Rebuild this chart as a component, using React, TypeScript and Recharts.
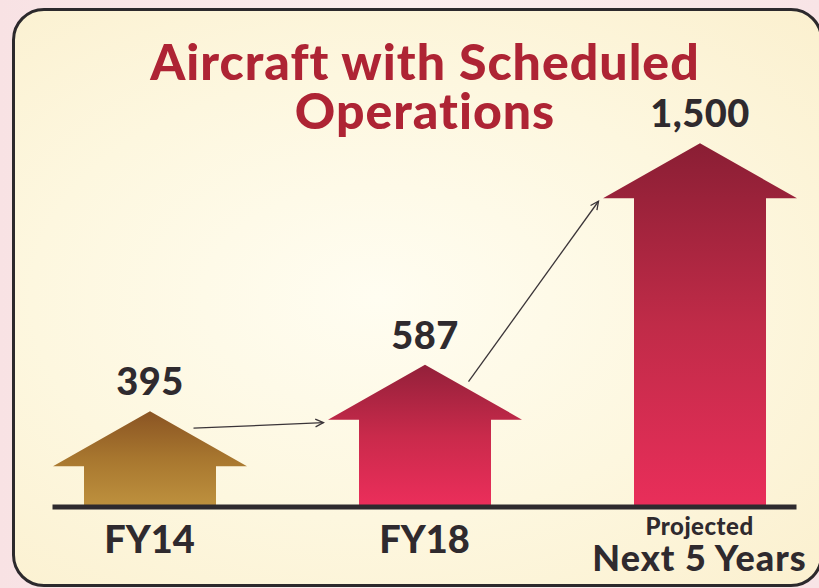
import React from "react";
import {
  BarChart,
  Bar,
  XAxis,
  YAxis,
  Cell,
  LabelList,
  ReferenceLine,
} from "recharts";

const PERIODS = ["FY14", "FY18", "Projected"];
const TICK_LINES = [["FY14"], ["FY18"], ["Projected", "Next 5 Years"]];
const AIRCRAFT = [395, 587, 1500];
const GRADIENTS = [
  ["#8a5423", "#a8772f", "#be913e"],
  ["#93203a", "#c92a4b", "#ec2e5b"],
  ["#8a1e34", "#c02b48", "#e92e5a"],
];

const BAR_W = 132;
const HEAD_OVER = 31;
const HEAD_H = 55;
const FONT = "Lato, 'Open Sans', sans-serif";
const INK = "#2f2a2e";

const data = PERIODS.map((period, i) => ({ period, aircraft: AIRCRAFT[i] }));

// bar drawn as an up-arrow
function ArrowBar(props: any) {
  const { x, y, width, height, fill } = props;
  if (!height) return null;
  const base = y + height;
  const hb = y + HEAD_H;
  const pts = [
    [x, base],
    [x, hb],
    [x - HEAD_OVER, hb],
    [x + width / 2, y],
    [x + width + HEAD_OVER, hb],
    [x + width, hb],
    [x + width, base],
  ]
    .map((p) => p.join(","))
    .join(" ");
  return <polygon points={pts} fill={fill} />;
}

function ValueLabel(props: any) {
  const { x, y, width, value } = props;
  return (
    <text
      x={x + width / 2}
      y={y - 16}
      textAnchor="middle"
      fontSize={38}
      fontWeight={900}
      fill={INK}
      fontFamily={FONT}
      letterSpacing={0.5}
    >
      {Number(value).toLocaleString("en-US")}
    </text>
  );
}

function PeriodTick({ x, y, payload }: any) {
  const lines = TICK_LINES[PERIODS.indexOf(payload.value)] ?? [payload.value];
  if (lines.length === 1) {
    return (
      <text x={x} y={y + 38} textAnchor="middle" fontSize={38} fontWeight={900} fill={INK} fontFamily={FONT}>
        {lines[0]}
      </text>
    );
  }
  return (
    <g fill={INK} fontFamily={FONT} fontWeight={900} textAnchor="middle">
      <text x={x} y={y + 20} fontSize={24} letterSpacing={0.5}>
        {lines[0]}
      </text>
      <text x={x} y={y + 56} fontSize={36} letterSpacing={1}>
        {lines[1]}
      </text>
    </g>
  );
}

// thin arrow from one arrow head to the next
function Connector(props: any) {
  const { x1, y1, x2, y2 } = props;
  const sx = x1 + 44;
  const sy = y1 + 17;
  const ex = x2 - BAR_W / 2 - HEAD_OVER - 4;
  const ey = y2 + HEAD_H + 3;
  const ang = Math.atan2(ey - sy, ex - sx);
  const L = 9;
  const a1 = [ex - L * Math.cos(ang - 0.45), ey - L * Math.sin(ang - 0.45)];
  const a2 = [ex - L * Math.cos(ang + 0.45), ey - L * Math.sin(ang + 0.45)];
  return (
    <g stroke="#3a3438" strokeWidth={1.3} fill="none">
      <line x1={sx} y1={sy} x2={ex} y2={ey} />
      <polyline points={`${a1.join(",")} ${ex},${ey} ${a2.join(",")}`} />
    </g>
  );
}

function BaseLine(props: any) {
  const { x1, y1, x2, y2 } = props;
  const ext = BAR_W / 2 + HEAD_OVER;
  return <line x1={x1 - ext} y1={y1} x2={x2 + ext} y2={y2} stroke="#2e2a2e" strokeWidth={5} />;
}

export default function App() {
  return (
    <div
      style={{
        position: "absolute",
        left: 0,
        top: 0,
        width: 819,
        height: 588,
        overflow: "hidden",
        background: "linear-gradient(90deg, #f8e2e4, #fbeeee 50%, #f8e4e6)",
      }}
    >
      <div
        style={{
          position: "absolute",
          left: 12,
          top: 8,
          width: 811,
          height: 579,
          boxSizing: "border-box",
          border: "3px solid #2c292c",
          borderRadius: 32,
          background:
            "radial-gradient(ellipse at 45% 50%, #fffdf1 0%, #fdf7df 55%, #fbf0cf 100%)",
        }}
      />
      <div
        style={{
          position: "absolute",
          left: 0,
          top: 37,
          width: 850,
          textAlign: "center",
          fontFamily: FONT,
          fontWeight: 900,
          fontSize: 50,
          lineHeight: "49px",
          letterSpacing: 1,
          color: "#ae2434",
        }}
      >
        <div>Aircraft with Scheduled</div>
        <div>Operations</div>
      </div>
      <div style={{ position: "absolute", left: 0, top: 0 }}>
        <BarChart
          width={840}
          height={588}
          data={data}
          margin={{ top: 119, right: 3, bottom: 0, left: 12 }}
        >
          <defs>
            {GRADIENTS.map((g, i) => (
              <linearGradient key={i} id={`arrow${i}`} x1="0" y1="0" x2="0" y2="1">
                <stop offset="0%" stopColor={g[0]} />
                <stop offset="50%" stopColor={g[1]} />
                <stop offset="100%" stopColor={g[2]} />
              </linearGradient>
            ))}
          </defs>
          <XAxis
            dataKey="period"
            height={81}
            axisLine={false}
            tickLine={false}
            interval={0}
            tick={<PeriodTick />}
          />
          <YAxis hide domain={[0, 1600]} />
          <Bar dataKey="aircraft" barSize={BAR_W} shape={<ArrowBar />} isAnimationActive={false}>
            {data.map((d, i) => (
              <Cell key={d.period} fill={`url(#arrow${i})`} />
            ))}
            <LabelList dataKey="aircraft" content={<ValueLabel />} />
          </Bar>
          <ReferenceLine
            segment={[
              { x: PERIODS[0], y: 0 },
              { x: PERIODS[PERIODS.length - 1], y: 0 },
            ]}
            shape={BaseLine}
          />
          {data.slice(0, -1).map((d, i) => (
            <ReferenceLine
              key={d.period}
              segment={[
                { x: d.period, y: d.aircraft },
                { x: data[i + 1].period, y: data[i + 1].aircraft },
              ]}
              shape={Connector}
            />
          ))}
        </BarChart>
      </div>
    </div>
  );
}
